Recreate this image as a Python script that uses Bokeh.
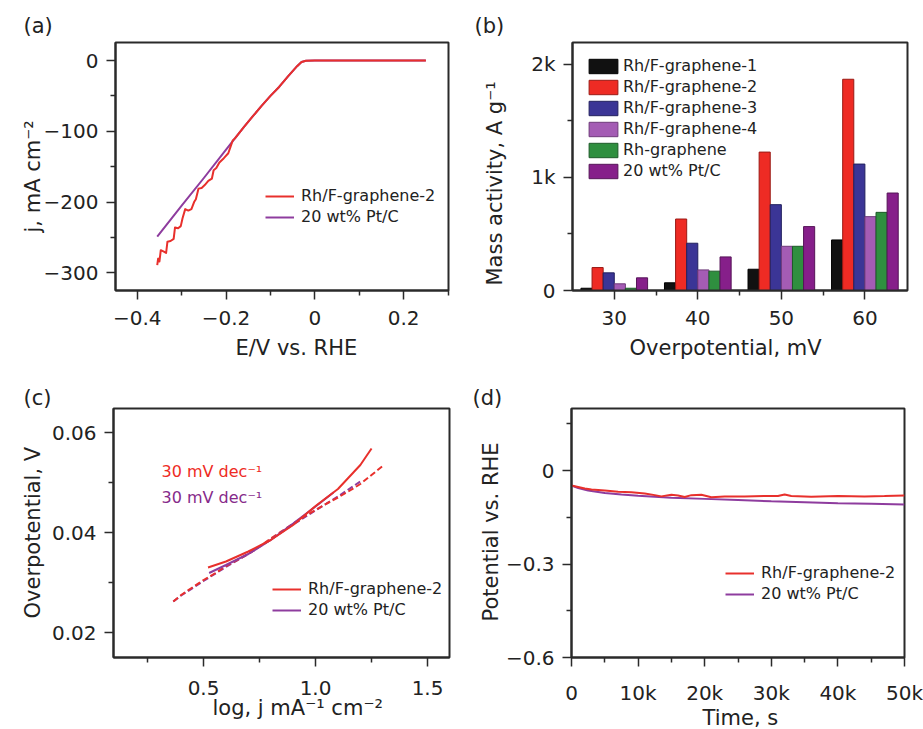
from bokeh.plotting import figure
from bokeh.models import FixedTicker, Legend, LegendItem, Label, Title
from bokeh.layouts import row, column
from bokeh.embed import file_html
from bokeh.resources import INLINE

FONT = "DejaVu Sans"
TXT = "#222222"
FRAME = "#2a2a2a"
RED = "#e8302c"
PURPLE = "#8e3c9e"

# ---------------- (a) polarization curves ----------------
lsv_red_E = [0.25, 0.10, 0.00, -0.020, -0.030, -0.040, -0.060, -0.080, -0.100, -0.120, -0.140,
             -0.160, -0.180, -0.185, -0.190, -0.195, -0.205, -0.215, -0.222, -0.228, -0.232,
             -0.240, -0.248, -0.255, -0.262, -0.268, -0.272, -0.278, -0.285, -0.292, -0.298,
             -0.302, -0.308, -0.315, -0.318, -0.325, -0.332, -0.335, -0.340, -0.347, -0.350,
             -0.353, -0.355]
lsv_red_j = [0, 0, 0, -0.3, -2, -8, -22, -37, -50, -64, -79,
             -94, -110, -113, -122, -131, -138, -144, -152, -155, -167,
             -170, -176, -180, -181, -196, -200, -210, -212, -210, -223,
             -234, -237, -236, -252, -255, -256, -272, -270, -268, -284,
             -280, -289]
lsv_pt_E = [0.25, 0.10, 0.00, -0.020, -0.030, -0.040, -0.060, -0.080, -0.100, -0.120, -0.140,
            -0.160, -0.180, -0.200, -0.250, -0.300, -0.355]
lsv_pt_j = [0, 0, 0, -0.3, -2, -8, -22, -37, -50, -64, -79,
            -94, -110, -126, -166, -205, -249]
a_xticks = [-0.4, -0.2, 0, 0.2]
a_xlabels = ["−0.4", "−0.2", "0", "0.2"]
a_xminor = [-0.3, -0.1, 0.1, 0.3]
a_yticks = [0, -100, -200, -300]
a_ylabels = ["0", "−100", "−200", "−300"]
a_yminor = [-50, -150, -250]

# ---------------- (b) mass activity ----------------
overpotentials = [30, 40, 50, 60]
mass_series = ["Rh/F-graphene-1", "Rh/F-graphene-2", "Rh/F-graphene-3",
               "Rh/F-graphene-4", "Rh-graphene", "20 wt% Pt/C"]
mass_rhf1 = [20, 68, 188, 447]
mass_rhf2 = [203, 632, 1224, 1868]
mass_rhf3 = [156, 418, 759, 1118]
mass_rhf4 = [59, 182, 391, 653]
mass_rhg = [20, 171, 391, 691]
mass_ptc = [112, 297, 565, 862]
mass_colors = ["#111111", "#ee2b24", "#3b3596", "#a45cb4", "#2f8f3f", "#861f8a"]
mass_edges = ["#000000", "#9a1a15", "#22205e", "#6e3a7a", "#1d5a28", "#561558"]
b_xticks = [30, 40, 50, 60]
b_xlabels = ["30", "40", "50", "60"]
b_xminor = [35, 45, 55]
b_yticks = [0, 1000, 2000]
b_ylabels = ["0", "1k", "2k"]
b_yminor = [500, 1500]

# ---------------- (c) Tafel plots ----------------
tafel_red_fit_x = [0.52, 0.60, 0.70, 0.80, 0.90, 1.00, 1.10, 1.20, 1.25]
tafel_red_fit_y = [0.0330, 0.0342, 0.0362, 0.0385, 0.0415, 0.0453, 0.0487, 0.0535, 0.0568]
tafel_red_x = [0.365, 0.40, 0.45, 0.50, 0.55, 0.60, 0.65, 0.70, 0.75, 0.80, 0.85, 0.90,
               0.95, 1.00, 1.05, 1.10, 1.15, 1.20, 1.25, 1.30]
tafel_red_y = [0.0262, 0.0275, 0.0290, 0.0305, 0.0318, 0.0333, 0.0345, 0.0357, 0.0372,
               0.0388, 0.0403, 0.0418, 0.0432, 0.0445, 0.0458, 0.0470, 0.0483, 0.0497,
               0.0515, 0.0533]
tafel_pt_fit_x = [0.525, 0.60, 0.70, 0.80, 0.90, 1.00, 1.08]
tafel_pt_fit_y = [0.0319, 0.0335, 0.0357, 0.0385, 0.0418, 0.0452, 0.0480]
tafel_pt_x = [0.365, 0.40, 0.50, 0.60, 0.70, 0.80, 0.90, 1.00, 1.10, 1.20]
tafel_pt_y = [0.0262, 0.0274, 0.0303, 0.0331, 0.0357, 0.0386, 0.0416, 0.0444, 0.0472, 0.0502]
tafel_slope_text = "30 mV dec⁻¹"
c_xticks = [0.5, 1.0, 1.5]
c_xlabels = ["0.5", "1.0", "1.5"]
c_xminor = [0.25, 0.75, 1.25]
c_yticks = [0.02, 0.04, 0.06]
c_ylabels = ["0.02", "0.04", "0.06"]
c_yminor = [0.03, 0.05]

# ---------------- (d) stability ----------------
stab_red_t = [0, 1000, 2000, 3000, 5000, 7000, 9000, 11000, 12500, 13500, 15000, 16000,
              17000, 18000, 19500, 21000, 23000, 26000, 29000, 31000, 32000, 33000, 36000,
              40000, 44000, 47000, 50000]
stab_red_v = [-0.048, -0.053, -0.058, -0.061, -0.064, -0.068, -0.070, -0.074, -0.079,
              -0.083, -0.078, -0.080, -0.085, -0.079, -0.078, -0.086, -0.083, -0.083,
              -0.082, -0.082, -0.077, -0.082, -0.084, -0.082, -0.083, -0.082, -0.080]
stab_pt_t = [0, 1000, 2500, 5000, 7500, 10000, 15000, 20000, 25000, 30000, 35000, 40000,
             45000, 50000]
stab_pt_v = [-0.048, -0.056, -0.064, -0.072, -0.077, -0.081, -0.087, -0.091, -0.095,
             -0.099, -0.102, -0.105, -0.107, -0.109]
d_xticks = [0, 10000, 20000, 30000, 40000, 50000]
d_xlabels = ["0", "10k", "20k", "30k", "40k", "50k"]
d_xminor = [5000, 15000, 25000, 35000, 45000]
d_yticks = [0, -0.3, -0.6]
d_ylabels = ["0", "−0.3", "−0.6"]
d_yminor = [0.15, -0.15, -0.45]

legend_names = ["Rh/F-graphene-2", "20 wt% Pt/C"]


def make_fig(w, h, bl, br, bt, bb, xr, yr, xt, xl, xm, yt, yl, ym, xstand):
    p = figure(width=w, height=h, x_range=xr, y_range=yr, output_backend="svg",
               toolbar_location=None, min_border_left=bl, min_border_right=br,
               min_border_top=bt, min_border_bottom=bb)
    p.grid.visible = False
    p.outline_line_color = FRAME
    p.outline_line_width = 2
    for ax, t, l, m in ((p.xaxis[0], xt, xl, xm), (p.yaxis[0], yt, yl, ym)):
        ax.ticker = FixedTicker(ticks=t, minor_ticks=m)
        ax.major_label_overrides = dict(zip(t, l))
        ax.axis_line_color = FRAME
        ax.axis_line_width = 2
        ax.major_tick_in = 0
        ax.major_tick_out = 9
        ax.minor_tick_in = 0
        ax.minor_tick_out = 5
        ax.major_tick_line_color = FRAME
        ax.minor_tick_line_color = FRAME
        ax.major_tick_line_width = 1.5
        ax.minor_tick_line_width = 1.5
        ax.major_label_text_font = FONT
        ax.major_label_text_font_size = "20px"
        ax.major_label_text_color = TXT
    p.xaxis[0].major_label_standoff = xstand
    p.yaxis[0].major_label_standoff = 8
    return p


def side_title(p, text, side, offset, standoff):
    p.add_layout(Title(text=text, align="left", offset=offset, standoff=standoff,
                       text_font=FONT, text_font_size="21px", text_font_style="normal",
                       text_color=TXT), side)


def panel_letter(p, text, offset, standoff):
    p.title.text = text
    p.title.align = "left"
    p.title.offset = offset
    p.title.standoff = standoff
    p.title.text_font = FONT
    p.title.text_font_size = "21px"
    p.title.text_font_style = "normal"
    p.title.text_color = TXT


def line_legend(p, renderers, loc):
    leg = Legend(items=[LegendItem(label=n, renderers=[r]) for n, r in zip(legend_names, renderers)],
                 location=loc, padding=0, margin=0, border_line_color=None,
                 background_fill_alpha=0, glyph_width=29, glyph_height=18, label_height=18,
                 spacing=2, label_standoff=7, label_text_font=FONT,
                 label_text_font_size="16px", label_text_color=TXT)
    p.add_layout(leg)


# ---------- (a) ----------
pa = make_fig(458, 378, 115, 10, 42, 88, (-0.449, 0.301), (-325, 25.5),
              a_xticks, a_xlabels, a_xminor, a_yticks, a_ylabels, a_yminor, 11)
ra_pt = pa.line(lsv_pt_E, lsv_pt_j, line_color=PURPLE, line_width=2, line_join="round")
ra_red = pa.line(lsv_red_E, lsv_red_j, line_color=RED, line_width=2, line_join="round")
line_legend(pa, [ra_red, ra_pt], (150, 64))
side_title(pa, "E/V vs. RHE", "below", 120, 12)
side_title(pa, "j, mA cm⁻²", "left", 58, -9)
panel_letter(pa, "(a)", -92, 9)

# ---------- (b) ----------
pb = make_fig(465, 378, 113, 16, 42, 86, (25, 65.1), (0, 2193),
              b_xticks, b_xlabels, b_xminor, b_yticks, b_ylabels, b_yminor, 11)
bar_w = 1.33
mass_values = [mass_rhf1, mass_rhf2, mass_rhf3, mass_rhf4, mass_rhg, mass_ptc]
bar_items = []
for i, (vals, col, edge, name) in enumerate(zip(mass_values, mass_colors, mass_edges, mass_series)):
    xs = [g + (i - 2.5) * bar_w for g in overpotentials]
    r = pb.vbar(x=xs, top=vals, bottom=0, width=bar_w, fill_color=col, line_color=edge,
                line_width=1)
    bar_items.append(LegendItem(label=name, renderers=[r]))
leg_b = Legend(items=bar_items, location=(13, 110), padding=0, margin=0, border_line_color=None,
               background_fill_alpha=0, glyph_width=36, glyph_height=18, label_height=18,
               spacing=2, label_standoff=2, label_text_font=FONT, label_text_font_size="16px",
               label_text_color=TXT)
pb.add_layout(leg_b)
side_title(pb, "Overpotential, mV", "below", 57, 12)
side_title(pb, "Mass activity, A g⁻¹", "left", 5, 44)
panel_letter(pb, "(b)", -98, 9)

# ---------- (c) ----------
pc = make_fig(458, 351, 113, 9, 30, 72, (0.098, 1.598), (0.015, 0.0648),
              c_xticks, c_xlabels, c_xminor, c_yticks, c_ylabels, c_yminor, 14)
pc.line(tafel_pt_x, tafel_pt_y, line_color=PURPLE, line_width=2, line_dash="6 3")
pc.line(tafel_red_x, tafel_red_y, line_color=RED, line_width=2, line_dash="6 3")
rc_pt = pc.line(tafel_pt_fit_x, tafel_pt_fit_y, line_color=PURPLE, line_width=2)
rc_red = pc.line(tafel_red_fit_x, tafel_red_fit_y, line_color=RED, line_width=2)
line_legend(pc, [rc_red, rc_pt], (159, 38))
pc.add_layout(Label(x=0.3125, y=0.0522, text=tafel_slope_text, text_font=FONT,
                    text_font_size="16px", text_color="#ee2b24", text_baseline="middle"))
pc.add_layout(Label(x=0.3125, y=0.0470, text=tafel_slope_text, text_font=FONT,
                    text_font_size="16px", text_color="#862a8a", text_baseline="middle"))
side_title(pc, "log, j mA⁻¹ cm⁻²", "below", 99, -8)
side_title(pc, "Overpotential, V", "left", 39, 8)
panel_letter(pc, "(c)", -90, -2)

# ---------- (d) ----------
pd = make_fig(465, 351, 113, 19, 30, 72, (0, 50000), (-0.6, 0.199),
              d_xticks, d_xlabels, d_xminor, d_yticks, d_ylabels, d_yminor, 14)
rd_pt = pd.line(stab_pt_t, stab_pt_v, line_color=PURPLE, line_width=2)
rd_red = pd.line(stab_red_t, stab_red_v, line_color=RED, line_width=2)
line_legend(pd, [rd_red, rd_pt], (154, 54))
side_title(pd, "Time, s", "below", 131, -8)
side_title(pd, "Potential vs. RHE", "left", 36, 0)
panel_letter(pd, "(d)", -99, -2)

layout = column(row(pa, pb), row(pc, pd))
open("out.html", "w").write(file_html(layout, INLINE))
